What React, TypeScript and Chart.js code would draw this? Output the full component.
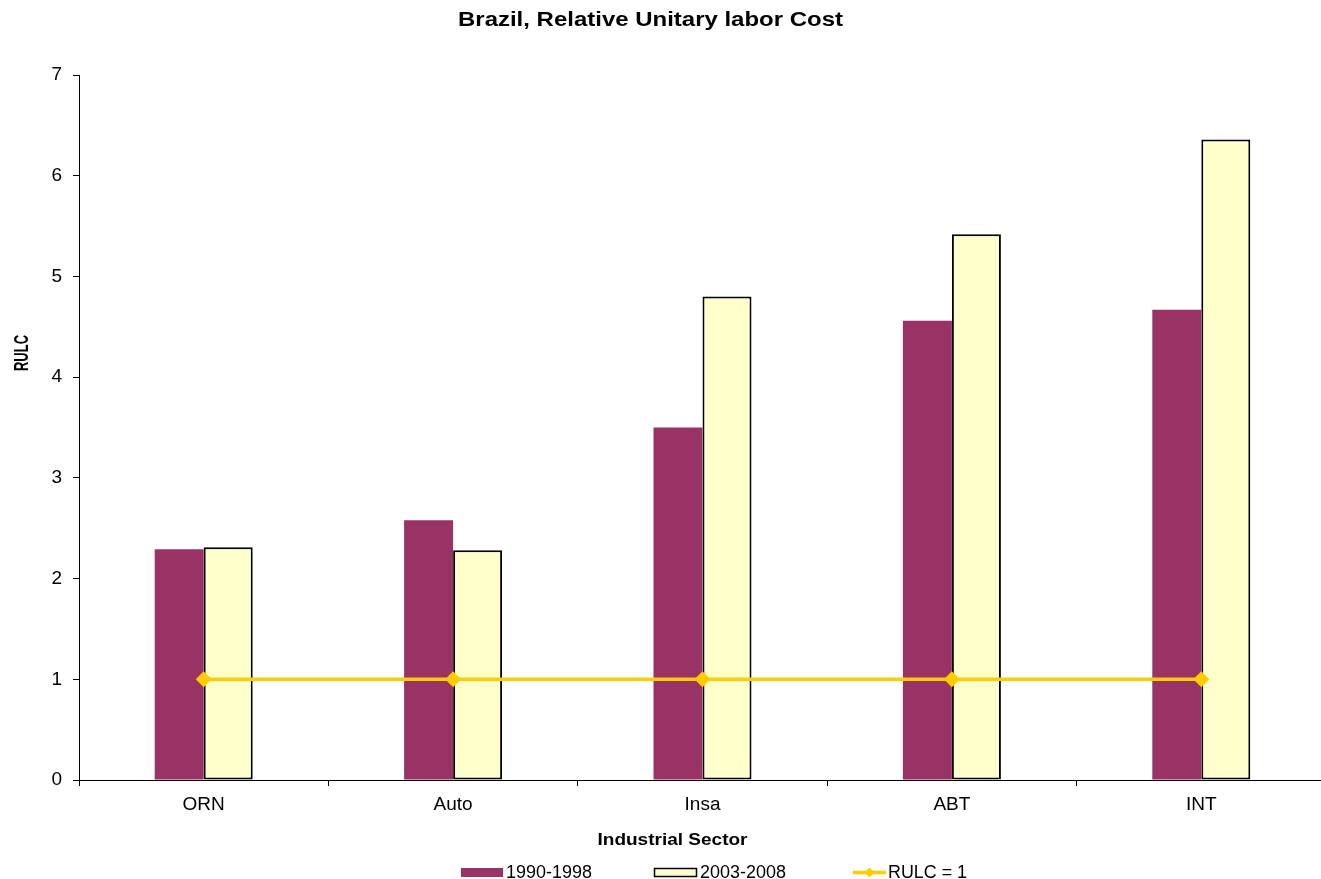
import React, { useEffect, useRef } from "react";
import { Chart, registerables } from "chart.js";

Chart.register(...registerables);

const CATEGORIES = ["ORN", "Auto", "Insa", "ABT", "INT"];
const SERIES_1990_1998 = [2.29, 2.58, 3.5, 4.56, 4.67];
const SERIES_2003_2008 = [2.31, 2.28, 4.8, 5.42, 6.36];
const RULC_ONE = [1, 1, 1, 1, 1];
const SERIES_LABELS = ["1990-1998", "2003-2008", "RULC = 1"];
const Y_MIN = 0;
const Y_MAX = 7;
const Y_STEP = 1;
const TITLE = "Brazil, Relative Unitary labor Cost";
const X_TITLE = "Industrial Sector";
const Y_TITLE = "RULC";

const FONT = '"Liberation Sans", Arial, sans-serif';
const PURPLE = "#993366";
const PALE = "#FFFFCC";
const GOLD = "#FFCC00";

function fitText(
  ctx: CanvasRenderingContext2D,
  text: string,
  x: number,
  baseY: number,
  font: string,
  width: number | null,
  align: "left" | "center",
  rot = 0
) {
  ctx.save();
  ctx.font = font;
  const w = ctx.measureText(text).width;
  ctx.translate(x, baseY);
  if (rot) ctx.rotate(rot);
  if (width) ctx.scale(width / w, 1);
  ctx.textAlign = align;
  ctx.textBaseline = "alphabetic";
  ctx.fillStyle = "#000";
  ctx.fillText(text, 0, 0);
  ctx.restore();
}

const textPlugin = {
  id: "customText",
  afterDraw(chart: any) {
    const ctx: CanvasRenderingContext2D = chart.ctx;
    const ds = chart.data.datasets;
    const lineDs = ds[0];
    const barA = ds[1];
    const barB = ds[2];
    fitText(ctx, TITLE, 650.5, 26, `bold 20px ${FONT}`, 385, "center");
    fitText(ctx, X_TITLE, 672.5, 845, `bold 17px ${FONT}`, 150, "center");
    fitText(ctx, Y_TITLE, 28, 353, `bold 20px ${FONT}`, 36, "center", -Math.PI / 2);

    // legend
    const ly = 872.5;
    ctx.save();
    ctx.fillStyle = barA.backgroundColor;
    ctx.fillRect(461, 868, 42, 9);
    ctx.fillStyle = barB.backgroundColor;
    ctx.fillRect(654, 868, 43, 9);
    ctx.strokeStyle = barB.borderColor;
    ctx.lineWidth = 1.5;
    ctx.strokeRect(654.5, 868.5, 42, 8);
    ctx.strokeStyle = lineDs.borderColor;
    ctx.lineWidth = 3.5;
    ctx.beginPath();
    ctx.moveTo(853, ly);
    ctx.lineTo(886, ly);
    ctx.stroke();
    ctx.fillStyle = lineDs.pointBackgroundColor;
    ctx.beginPath();
    ctx.moveTo(869.5, ly - 5);
    ctx.lineTo(874.5, ly);
    ctx.lineTo(869.5, ly + 5);
    ctx.lineTo(864.5, ly);
    ctx.closePath();
    ctx.fill();
    ctx.restore();
    fitText(ctx, barA.label, 506, 878, `18px ${FONT}`, 86, "left");
    fitText(ctx, barB.label, 700, 878, `18px ${FONT}`, 86, "left");
    fitText(ctx, lineDs.label, 888, 878, `18px ${FONT}`, 79, "left");
  },
};

export default function App() {
  const ref = useRef<HTMLCanvasElement | null>(null);

  useEffect(() => {
    if (!ref.current) return;
    Chart.defaults.font.family = FONT;
    Chart.defaults.color = "#000";
    const chart = new Chart(ref.current, {
      type: "bar",
      data: {
        labels: CATEGORIES,
        datasets: [
          {
            type: "line",
            label: SERIES_LABELS[2],
            data: RULC_ONE,
            borderColor: GOLD,
            backgroundColor: GOLD,
            pointBackgroundColor: GOLD,
            pointBorderColor: GOLD,
            borderWidth: 3.5,
            pointStyle: "rectRot",
            pointRadius: 8,
            pointBorderWidth: 0,
            order: 0,
          },
          {
            type: "bar",
            label: SERIES_LABELS[0],
            data: SERIES_1990_1998,
            backgroundColor: PURPLE,
            borderWidth: 0,
            order: 1,
          },
          {
            type: "bar",
            label: SERIES_LABELS[1],
            data: SERIES_2003_2008,
            backgroundColor: PALE,
            borderColor: "#000",
            borderWidth: 2,
            borderSkipped: false,
            order: 1,
          },
        ],
      },
      options: {
        responsive: false,
        animation: false,
        devicePixelRatio: 1,
        layout: { padding: { top: 75, right: 14, left: 0, bottom: 0 } },
        datasets: {
          bar: { barPercentage: 1, categoryPercentage: 0.393 },
        },
        plugins: {
          legend: { display: false },
          title: { display: false },
          tooltip: { enabled: false },
        },
        scales: {
          x: {
            type: "category",
            offset: true,
            grid: {
              offset: true,
              drawOnChartArea: false,
              drawTicks: true,
              tickLength: 6,
              color: "#000",
            },
            border: { display: true, color: "#000", width: 1 },
            ticks: { font: { size: 19 }, color: "#000", padding: 7 },
            afterFit: (s: any) => {
              s.height = 99;
            },
          },
          y: {
            min: Y_MIN,
            max: Y_MAX,
            ticks: { stepSize: Y_STEP, font: { size: 19 }, color: "#000", padding: 11 },
            grid: {
              drawOnChartArea: false,
              drawTicks: true,
              tickLength: 6,
              color: "#000",
            },
            border: { display: true, color: "#000", width: 1 },
            afterFit: (s: any) => {
              s.width = 79;
            },
          },
        },
      },
      plugins: [textPlugin],
    } as any);
    return () => chart.destroy();
  }, []);

  return (
    <div style={{ position: "fixed", left: 0, top: 0, width: 1321, height: 879, overflow: "hidden", background: "#fff" }}>
      <canvas ref={ref} width={1340} height={879} style={{ display: "block" }} />
    </div>
  );
}
